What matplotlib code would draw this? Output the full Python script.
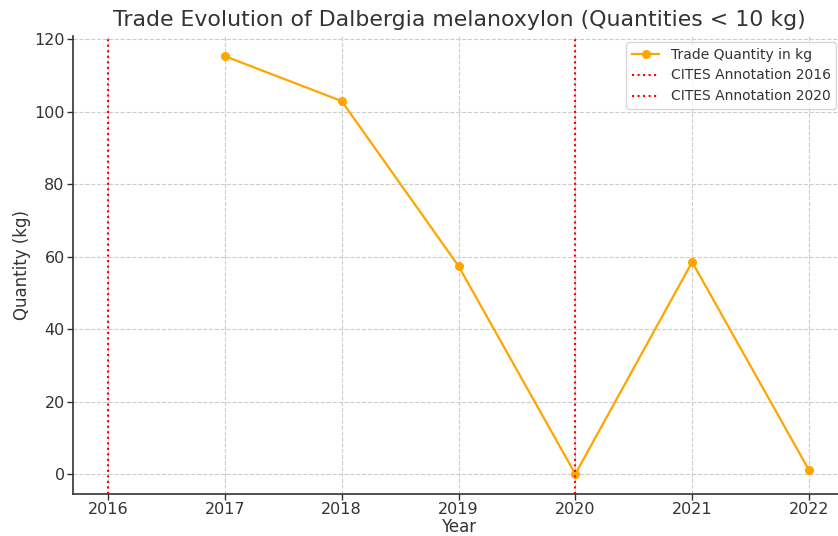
import matplotlib
matplotlib.use("Agg")
import matplotlib.pyplot as plt

years = [2017, 2018, 2019, 2020, 2021, 2022]
quantities = [115.3, 102.9, 57.4, 0.0, 58.5, 1.1]
annotation_years = [2016, 2020]
xticks = [2016, 2017, 2018, 2019, 2020, 2021, 2022]
yticks = [0, 20, 40, 60, 80, 100, 120]

text_color = "#333333"
plt.rcParams["font.family"] = "DejaVu Sans"

fig = plt.figure(figsize=(8.38, 5.36), dpi=100)
ax = fig.add_axes([73 / 838, (536 - 494) / 536, (844 - 73) / 838, (494 - 35.5) / 536])

ax.plot(years, quantities, color="orange", marker="o", markersize=5.5,
        linewidth=1.6, label="Trade Quantity in kg")
for yr in annotation_years:
    ax.axvline(yr, color="red", linestyle=":", linewidth=1.5,
               label=f"CITES Annotation {yr}")

ax.set_xlim(2015.7, 2022.3)
ax.set_ylim(-5.5, 121)
ax.set_xticks(xticks)
ax.set_yticks(yticks)
ax.grid(True, linestyle="--", color="#cccccc", linewidth=0.8)
ax.set_axisbelow(True)

for side in ("top", "right"):
    ax.spines[side].set_visible(False)
for side in ("left", "bottom"):
    ax.spines[side].set_color("#333333")
    ax.spines[side].set_linewidth(1.2)

ax.tick_params(axis="both", colors=text_color, labelsize=11.5, length=4, width=1, pad=2)
ax.set_xlabel("Year", fontsize=12, color=text_color, labelpad=0.5)
ax.set_ylabel("Quantity (kg)", fontsize=12, color=text_color, labelpad=2)
fig.text(459 / 838, 1 - 20 / 536, "Trade Evolution of Dalbergia melanoxylon (Quantities < 10 kg)",
         ha="center", va="center", fontsize=15.8, color=text_color)

leg = ax.legend(loc="upper right", bbox_to_anchor=(843 / 838, 1 - 35 / 536),
                bbox_transform=fig.transFigure, fontsize=10, frameon=True)
for t in leg.get_texts():
    t.set_color(text_color)

fig.savefig("out.png", dpi=100)
